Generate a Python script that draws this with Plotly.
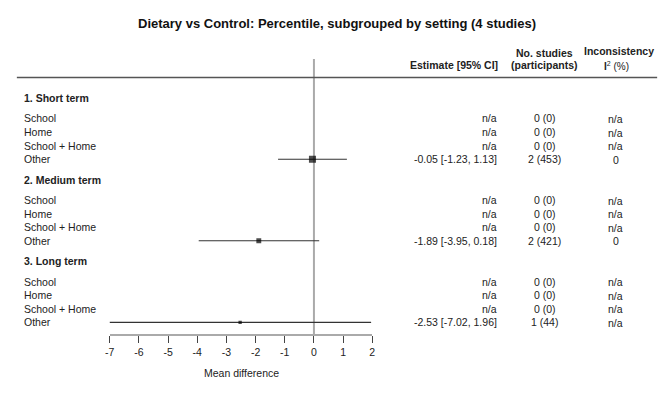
import plotly.graph_objects as go

# ---- data ----
title = "Dietary vs Control: Percentile, subgrouped by setting (4 studies)"
subgroups = ["1. Short term", "2. Medium term", "3. Long term"]
settings = ["School", "Home", "School + Home", "Other"]
# estimates for each subgroup (only "Other" has studies)
est = [[None, None, None, -0.05], [None, None, None, -1.89], [None, None, None, -2.53]]
ci_lo = [[None, None, None, -1.23], [None, None, None, -3.95], [None, None, None, -7.02]]
ci_hi = [[None, None, None, 1.13], [None, None, None, 0.18], [None, None, None, 1.96]]
n_studies = [[0, 0, 0, 2], [0, 0, 0, 2], [0, 0, 0, 1]]
participants = [[0, 0, 0, 453], [0, 0, 0, 421], [0, 0, 0, 44]]
i2 = [[None, None, None, 0], [None, None, None, 0], [None, None, None, None]]
x_ticks = [-7, -6, -5, -4, -3, -2, -1, 0, 1, 2]
x_label = "Mean difference"

W, H = 672, 399
FONT = "Liberation Sans, Arial, sans-serif"
TXT = "#222222"


def px(x):
    return x / W


def py(y):
    return (H - y) / H


# y layout (in row units, reversed axis)
row_ys = []
header_ys = []
for g in range(len(subgroups)):
    hy = g * 6
    header_ys.append(hy)
    row_ys.append([hy + 1.5 + i for i in range(len(settings))])

fig = go.Figure()

# CI lines
cx, cy = [], []
mx, my, msz = [], [], []
for g in range(len(subgroups)):
    for i in range(len(settings)):
        if est[g][i] is not None:
            cx += [ci_lo[g][i], ci_hi[g][i], None]
            cy += [row_ys[g][i], row_ys[g][i], None]
            mx.append(est[g][i])
            my.append(row_ys[g][i])
            width = ci_hi[g][i] - ci_lo[g][i]
            msz.append(2 + 12.0 / width)

fig.add_trace(go.Scatter(x=cx, y=cy, mode="lines",
                         line=dict(color="#333333", width=1.1),
                         hoverinfo="skip", showlegend=False))
fig.add_trace(go.Scatter(x=mx, y=my, mode="markers",
                         marker=dict(symbol="square", size=msz, color="#000000",
                                     line=dict(width=0)),
                         showlegend=False))

ann = []
ann.append(dict(text="<b>" + title + "</b>", x=px(336), y=py(23), xref="paper", yref="paper",
                showarrow=False, font=dict(size=13, color="#111111"), xanchor="center", yanchor="middle"))
# column headers
hdr_font = dict(size=10.5, color=TXT)
ann.append(dict(text="<b>Estimate [95% CI]</b>", x=px(501), y=py(65), xref="paper", yref="paper",
                showarrow=False, font=hdr_font, xanchor="right", yanchor="middle"))
ann.append(dict(text="<b>No. studies</b>", x=px(546), y=py(53), xref="paper", yref="paper",
                showarrow=False, font=hdr_font, xanchor="center", yanchor="middle"))
ann.append(dict(text="<b>(participants)</b>", x=px(546), y=py(65), xref="paper", yref="paper",
                showarrow=False, font=hdr_font, xanchor="center", yanchor="middle"))
ann.append(dict(text="<b>Inconsistency</b>", x=px(621), y=py(51), xref="paper", yref="paper",
                showarrow=False, font=hdr_font, xanchor="center", yanchor="middle"))
ann.append(dict(text="<b>I</b><sup>2</sup> (%)", x=px(619), y=py(66),
                xref="paper", yref="paper", showarrow=False, font=dict(size=10, color=TXT),
                xanchor="center", yanchor="middle"))

row_font = dict(size=10.5, color=TXT)
LX = 17
for g in range(len(subgroups)):
    ann.append(dict(text="<b>" + subgroups[g] + "</b>", x=px(LX), y=header_ys[g], xref="paper", yref="y",
                    showarrow=False, font=row_font, xanchor="left", yanchor="middle"))
    for i in range(len(settings)):
        yy = row_ys[g][i]
        ann.append(dict(text=settings[i], x=px(LX), y=yy, xref="paper", yref="y",
                        showarrow=False, font=row_font, xanchor="left", yanchor="middle"))
        if est[g][i] is None:
            etxt = "n/a"
        else:
            etxt = f"{est[g][i]:.2f} [{ci_lo[g][i]:.2f}, {ci_hi[g][i]:.2f}]"
        ann.append(dict(text=etxt, x=px(500), y=yy, xref="paper", yref="y",
                        showarrow=False, font=row_font, xanchor="right", yanchor="middle"))
        ann.append(dict(text=f"{n_studies[g][i]} ({participants[g][i]})", x=px(546), y=yy,
                        xref="paper", yref="y", showarrow=False, font=row_font,
                        xanchor="center", yanchor="middle"))
        itxt = "n/a" if i2[g][i] is None else f"{i2[g][i]}"
        ann.append(dict(text=itxt, x=px(618), y=yy + 0.05, xref="paper", yref="y",
                        showarrow=False, font=row_font, xanchor="center", yanchor="middle"))

ann.append(dict(text=x_label, x=px(239), y=py(373), xref="paper", yref="paper",
                showarrow=False, font=dict(size=10.5, color=TXT), xanchor="center", yanchor="middle"))

y_bottom_px, y_top_px = 334, 78
unit = 13.6
first_px = 98
y_range = [(y_bottom_px - first_px) / unit, (y_top_px - first_px) / unit]

shapes = [
    dict(type="line", xref="paper", yref="paper", x0=px(12), x1=px(660), y0=py(77.5), y1=py(77.5),
         line=dict(color="#555555", width=1.5)),
    dict(type="line", xref="x", yref="paper", x0=0, x1=0, y0=py(334), y1=py(59),
         line=dict(color="#aaaaaa", width=2), layer="below"),
]

fig.update_layout(
    width=W, height=H,
    margin=dict(l=0, r=0, t=0, b=0),
    paper_bgcolor="white", plot_bgcolor="white",
    font=dict(family=FONT, color=TXT),
    showlegend=False,
    annotations=ann,
    shapes=shapes,
    xaxis=dict(domain=[px(106), px(371.7)], range=[x_ticks[0], x_ticks[-1]],
               tickvals=x_ticks, ticktext=[str(t) for t in x_ticks],
               showgrid=False, zeroline=False, showline=True, linecolor="#aaaaaa", linewidth=2,
               ticks="outside", ticklen=7, tickwidth=1, tickcolor="#444444",
               tickfont=dict(size=10.5, color=TXT), fixedrange=True),
    yaxis=dict(domain=[py(y_bottom_px), py(y_top_px)], range=y_range, visible=False,
               showgrid=False, zeroline=False, fixedrange=True),
)

fig.write_html("out.html", config={"displayModeBar": False},
               post_script="document.body.style.margin='0';document.body.style.overflow='hidden';")
